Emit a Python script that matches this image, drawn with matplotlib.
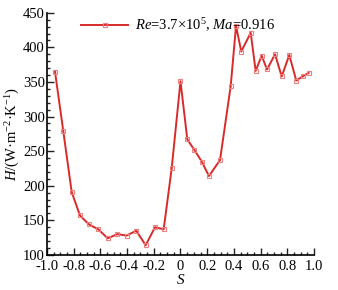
import numpy as np
import matplotlib
matplotlib.use("Agg")
from matplotlib import pyplot as plt
from matplotlib.ticker import MultipleLocator

# data
s = [-0.94, -0.878, -0.815, -0.753, -0.685, -0.616, -0.545, -0.473, -0.403, -0.331,
     -0.261, -0.191, -0.126, -0.066, 0.0, 0.051, 0.103, 0.159, 0.213, 0.296,
     0.376, 0.416, 0.455, 0.526, 0.563, 0.608, 0.648, 0.708, 0.758, 0.815,
     0.867, 0.915, 0.96]
h = [365, 279, 191, 157, 144, 137, 124, 130, 128, 135,
     114, 140, 137, 225, 351, 267, 252, 235, 214, 237,
     344, 431, 394, 421, 366, 388, 368, 390, 358, 389,
     352, 358, 363]
x_ticklabels = ['-1.0', '-0.8', '-0.6', '-0.4', '-0.2', '0',
                '0.2', '0.4', '0.6', '0.8', '1.0']
series_label = r"$\mathit{Re}$=3.7×10$^5$, $\mathit{Ma}$=0.916"

plt.rcParams['font.family'] = ['Liberation Serif', 'DejaVu Serif']
plt.rcParams['mathtext.fontset'] = 'custom'
plt.rcParams['mathtext.rm'] = 'Liberation Serif'
plt.rcParams['mathtext.it'] = 'Liberation Serif:italic'

fig = plt.figure(figsize=(3.38, 2.90), dpi=100)
ax = fig.add_axes([0.139, 0.121, 0.79, 0.835])

ax.plot(s, h, color='#d92a2a', lw=1.4, marker='s', ms=3.2,
        mfc='none', mec='#f08080', mew=0.8, label=series_label)

ax.set_xlim(-1.0, 1.0)
ax.set_ylim(100, 450)
ax.set_xticks(np.arange(-1.0, 1.01, 0.2))
ax.set_xticklabels(x_ticklabels)
ax.xaxis.set_minor_locator(MultipleLocator(0.05))
ax.yaxis.set_major_locator(MultipleLocator(50))
ax.yaxis.set_minor_locator(MultipleLocator(10))
ax.tick_params(which='both', direction='in', labelsize=10.5, width=1.0, color='#222222')
ax.tick_params(which='major', length=5)
ax.tick_params(which='minor', length=2.5)
ax.tick_params(axis='y', which='major', pad=1.5)
ax.tick_params(axis='x', which='major', pad=4)
ax.spines['top'].set_visible(False)
ax.spines['right'].set_visible(False)
for sp in ['left', 'bottom']:
    ax.spines[sp].set_linewidth(1.2)

ax.set_xlabel(r"$\mathit{S}$", fontsize=11, labelpad=0)
ax.set_ylabel(r"$\mathit{H}$/(W·m$^{-2}$·K$^{-1}$)", fontsize=10.5, labelpad=1)

ax.legend(loc='upper left', bbox_to_anchor=(0.08, 1.04), frameon=False,
          fontsize=10.5, handlelength=3.2, handletextpad=0.5)

fig.savefig("out.png", dpi=100)
